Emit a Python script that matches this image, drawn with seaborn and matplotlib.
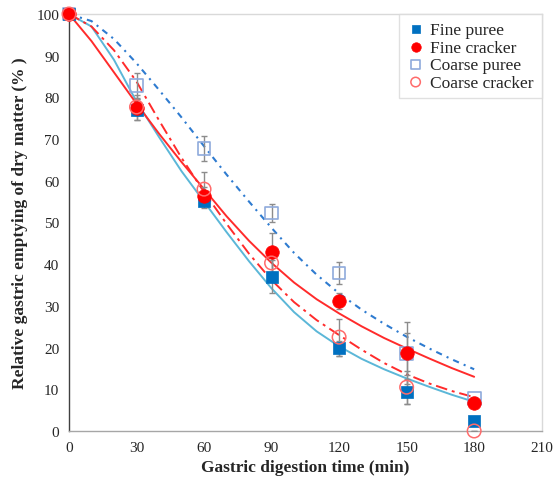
import numpy as np
import pandas as pd
import matplotlib
matplotlib.use("Agg")
import matplotlib.pyplot as plt
import seaborn as sns

# measured points (min, %)
times = [0, 30, 60, 90, 120, 150, 180]
fine_puree = [100, 77.0, 55.2, 37.0, 19.8, 9.4, 2.5]
fine_cracker = [100, 77.5, 56.4, 42.9, 31.1, 18.7, 6.7]
coarse_puree = [100, 82.8, 67.8, 52.3, 37.9, 18.5, 7.7]
coarse_cracker = [100, 77.7, 58.0, 40.3, 22.5, 10.5, 0.0]

fine_puree_err = [0, 2.5, 1.8, 4.0, 1.8, 3.0, 0.5]
fine_cracker_err = [0, 3.0, 2.0, 4.7, 1.9, 7.5, 0.7]
coarse_puree_err = [0, 3.0, 3.0, 2.2, 2.7, 5.0, 0.5]
coarse_cracker_err = [0, 2.0, 4.0, 3.0, 4.4, 4.0, 0.0]

# fitted curves, every 10 min
curve_t = [0, 10, 20, 30, 40, 50, 60, 70, 80, 90, 100, 110, 120, 130, 140, 150, 160, 170, 180]
fit_fine_puree = [100, 97, 89, 79, 70.5, 62.3, 55, 47.7, 40.7, 34.2, 28.5, 23.9, 20.3, 17.3, 14.8, 12.6, 10.6, 8.7, 7]
fit_fine_cracker = [100, 93.5, 86, 78.5, 71.3, 64.5, 58, 51.5, 45.6, 40.3, 35.6, 31.6, 28.2, 25.1, 22.3, 19.8, 17.4, 15.1, 13]
fit_coarse_puree = [100, 98.3, 94, 88.2, 81.8, 75.2, 68.3, 61.5, 55, 48.7, 42.7, 37.5, 33, 29.1, 25.7, 22.6, 19.8, 17.2, 14.8]
fit_coarse_cracker = [100, 97, 91.3, 83.8, 74.5, 65.5, 57.3, 49.7, 42.5, 36.2, 30.9, 26.6, 23, 19.5, 16.3, 13.6, 11.4, 9.6, 8.1]

labels = ["Fine puree", "Fine cracker", "Coarse puree", "Coarse cracker"]

sns.set_style("white")
plt.rcParams['font.family'] = ['Liberation Serif', 'DejaVu Serif']

fig = plt.figure(figsize=(5.55, 4.81), dpi=100)
ax = fig.add_axes([0.1243, 0.1019, 0.8517, 0.8669])

# curves
curves = pd.DataFrame({"t": curve_t, "fp": fit_fine_puree, "fc": fit_fine_cracker,
                       "cp": fit_coarse_puree, "cc": fit_coarse_cracker})
sns.lineplot(data=curves, x="t", y="fp", ax=ax, color="#5BB7D8", lw=1.4, zorder=2)
sns.lineplot(data=curves, x="t", y="fc", ax=ax, color="#FF2B2B", lw=1.4, zorder=2)
sns.lineplot(data=curves, x="t", y="cp", ax=ax, color="#2E7BD0", lw=1.5,
             linestyle=(0, (3, 2.5, 1, 2.5)), zorder=2)
sns.lineplot(data=curves, x="t", y="cc", ax=ax, color="#FF2B2B", lw=1.4,
             linestyle=(0, (6, 2.5, 1.5, 2.5)), zorder=2)

# error bars
for vals, err in [(coarse_puree, coarse_puree_err), (coarse_cracker, coarse_cracker_err),
                  (fine_puree, fine_puree_err), (fine_cracker, fine_cracker_err)]:
    ax.errorbar(times, vals, yerr=err, fmt="none", ecolor="#8C8C8C", elinewidth=1,
                capsize=2.5, capthick=1, zorder=3)

# markers
pts = pd.DataFrame({"t": times, "fp": fine_puree, "fc": fine_cracker,
                    "cp": coarse_puree, "cc": coarse_cracker})
sns.scatterplot(data=pts, x="t", y="cp", ax=ax, marker="s", s=85, facecolor="none",
                edgecolor="#8FAADC", linewidth=1.2, zorder=4, label=labels[2])
sns.scatterplot(data=pts, x="t", y="fp", ax=ax, marker="s", s=85, color="#0070C0",
                edgecolor="#0070C0", linewidth=0.5, zorder=5, label=labels[0])
sns.scatterplot(data=pts, x="t", y="fc", ax=ax, marker="o", s=95, color="#FF0000",
                edgecolor="#FF0000", linewidth=0.5, zorder=6, label=labels[1])
sns.scatterplot(data=pts, x="t", y="cc", ax=ax, marker="o", s=95, facecolor="none",
                edgecolor="#FF6B6B", linewidth=1.1, zorder=7, label=labels[3])
for coll in ax.collections:
    coll.set_clip_on(False)

ax.set_xlim(0, 210)
ax.set_ylim(0, 100)
ax.set_xticks([0, 30, 60, 90, 120, 150, 180, 210])
ax.set_yticks([0, 10, 20, 30, 40, 50, 60, 70, 80, 90, 100])
ax.tick_params(axis="both", length=0, labelsize=11, labelcolor="#262626", pad=7)

for side in ["top", "right"]:
    ax.spines[side].set_visible(True)
    ax.spines[side].set_color("#D9D9D9")
ax.spines["left"].set_color("#404040")
ax.spines["bottom"].set_color("#A6A6A6")
for s in ax.spines.values():
    s.set_linewidth(1)

ax.set_xlabel("Gastric digestion time (min)", fontsize=12.5, fontweight="bold", labelpad=4)
ax.set_ylabel("Relative gastric emptying of dry matter (% )", fontsize=12.5,
              fontweight="bold", labelpad=6)

handles, labs = ax.get_legend_handles_labels()
order = [labs.index(l) for l in labels]
leg = ax.legend([handles[i] for i in order], labels, loc="upper right",
                borderaxespad=0, frameon=True, fancybox=False, fontsize=12.5,
                handletextpad=0.35, labelspacing=0.08, borderpad=0.45,
                markerscale=0.7, handlelength=1.0)
leg.get_frame().set_edgecolor("#D9D9D9")
leg.get_frame().set_linewidth(1)
leg.set_zorder(10)

fig.savefig("out.png", dpi=100)
